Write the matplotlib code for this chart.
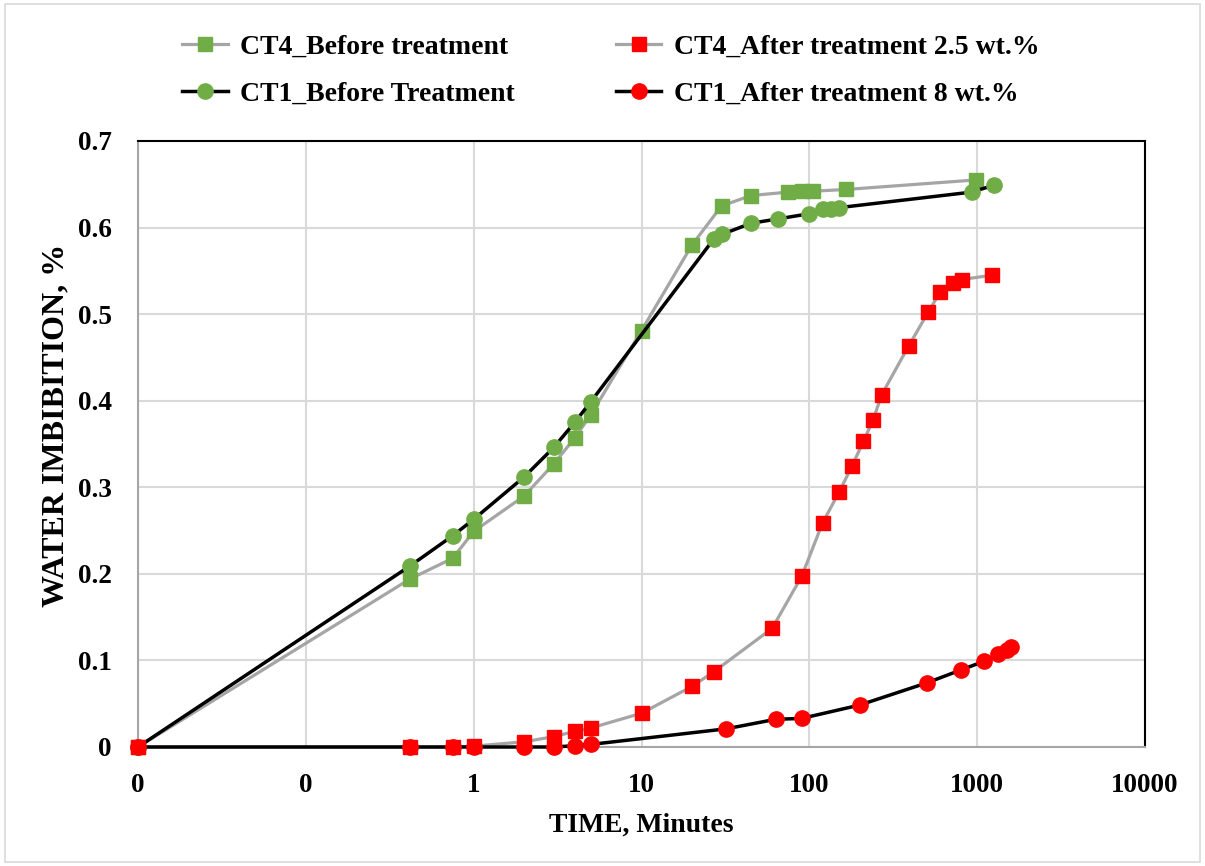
import matplotlib
matplotlib.use("Agg")
import matplotlib.pyplot as plt
from matplotlib.patches import Rectangle
from matplotlib.ticker import FixedLocator, FixedFormatter, NullLocator

# Imbibition time (minutes) and water imbibition (%) for each core
ct4_before_t = [0.01, 0.4167, 0.75, 1, 2, 3, 4, 5, 10, 20, 30, 45, 75, 90, 105, 165, 980]
ct4_before_y = [0, 0.194, 0.218, 0.249, 0.290, 0.327, 0.357, 0.384, 0.481, 0.580, 0.625,
                0.637, 0.641, 0.642, 0.642, 0.644, 0.655]

ct1_before_t = [0.01, 0.4167, 0.75, 1, 2, 3, 4, 5, 27, 30, 45, 65, 100, 120, 135, 150, 930, 1260]
ct1_before_y = [0, 0.209, 0.244, 0.263, 0.312, 0.346, 0.375, 0.399, 0.587, 0.592, 0.605,
                0.610, 0.616, 0.621, 0.622, 0.623, 0.641, 0.649]

ct4_after_t = [0.01, 0.4167, 0.75, 1, 2, 3, 4, 5, 10, 20, 27, 60, 90, 120, 150, 180, 210,
               240, 270, 390, 510, 600, 720, 810, 1230]
ct4_after_y = [0, 0, 0, 0.001, 0.006, 0.012, 0.018, 0.022, 0.039, 0.070, 0.087, 0.137, 0.197,
               0.259, 0.294, 0.325, 0.353, 0.378, 0.407, 0.463, 0.502, 0.525, 0.536, 0.540, 0.545]

ct1_after_t = [0.01, 0.4167, 0.75, 1, 2, 3, 4, 5, 32, 63, 90, 200, 500, 800, 1100, 1340, 1500, 1600]
ct1_after_y = [0, 0, 0, 0, 0, 0, 0.0015, 0.003, 0.021, 0.032, 0.033, 0.0485, 0.074, 0.089,
               0.099, 0.107, 0.112, 0.115]

x_ticks = [0.01, 0.1, 1, 10, 100, 1000, 10000]
x_tick_labels = ["0", "0", "1", "10", "100", "1000", "10000"]
y_ticks = [0, 0.1, 0.2, 0.3, 0.4, 0.5, 0.6, 0.7]
y_tick_labels = ["0", "0.1", "0.2", "0.3", "0.4", "0.5", "0.6", "0.7"]

GREEN = "#70AD47"
RED = "#FF0000"
GRAY = "#A5A5A5"
BLACK = "#000000"

plt.rcParams["font.family"] = ["Liberation Serif", "DejaVu Serif"]
plt.rcParams["font.weight"] = "bold"

fig = plt.figure(figsize=(12.05, 8.66), dpi=100)
ax = fig.add_axes([138 / 1205, 1 - 747 / 866, (1145 - 138) / 1205, (747 - 141) / 866])

common = dict(clip_on=False)
l1, = ax.plot(ct4_before_t, ct4_before_y, color=GRAY, lw=2.3, marker="s", ms=10,
              mfc=GREEN, mec=GREEN, zorder=3, label="CT4_Before treatment", **common)
l2, = ax.plot(ct1_before_t, ct1_before_y, color=BLACK, lw=2.5, marker="o", ms=11,
              mfc=GREEN, mec=GREEN, zorder=4, label="CT1_Before Treatment", **common)
l3, = ax.plot(ct4_after_t, ct4_after_y, color=GRAY, lw=2.3, marker="s", ms=10,
              mfc=RED, mec=RED, zorder=5, label="CT4_After treatment 2.5 wt.%", **common)
l4, = ax.plot(ct1_after_t, ct1_after_y, color=BLACK, lw=2.5, marker="o", ms=11,
              mfc=RED, mec=RED, zorder=6, label="CT1_After treatment 8 wt.%", **common)

ax.set_xscale("log")
ax.set_xlim(0.01, 10000)
ax.set_ylim(0, 0.7)
ax.xaxis.set_major_locator(FixedLocator(x_ticks))
ax.xaxis.set_major_formatter(FixedFormatter(x_tick_labels))
ax.xaxis.set_minor_locator(NullLocator())
ax.yaxis.set_major_locator(FixedLocator(y_ticks))
ax.yaxis.set_major_formatter(FixedFormatter(y_tick_labels))

ax.grid(True, color="#D9D9D9", lw=1.5, zorder=0)
ax.set_axisbelow(True)
ax.tick_params(axis="both", length=0, labelsize=19.5)
ax.tick_params(axis="x", pad=19)
ax.tick_params(axis="y", pad=19)
for lbl in ax.get_xticklabels() + ax.get_yticklabels():
    lbl.set_fontweight("bold")

for side in ("left", "bottom"):
    ax.spines[side].set_color("#A6A6A6")
    ax.spines[side].set_linewidth(1.5)
for side in ("top", "right"):
    ax.spines[side].set_color("#000000")
    ax.spines[side].set_linewidth(1.5)

ax.set_xlabel("TIME, Minutes", fontsize=20, fontweight="bold", labelpad=10)
ax.set_ylabel("WATER IMBIBITION, %", fontsize=23, fontweight="bold")
ax.yaxis.set_label_coords(-0.067, (747 - 425) / 606)

fig.legend(handles=[l1, l2, l3, l4], loc="upper left", ncol=2, frameon=False,
           bbox_to_anchor=(182 / 1205, 1 - 34 / 866), borderaxespad=0, borderpad=0,
           prop={"size": 20, "weight": "bold"}, handlelength=1.65, handletextpad=0.45,
           columnspacing=3.62, labelspacing=0.78)

fig.patches.append(Rectangle((5 / 1205, 4 / 866), 1195 / 1205, 858 / 866,
                             transform=fig.transFigure, fill=False,
                             edgecolor="#D9D9D9", lw=1.2))

fig.savefig("out.png", dpi=100)
